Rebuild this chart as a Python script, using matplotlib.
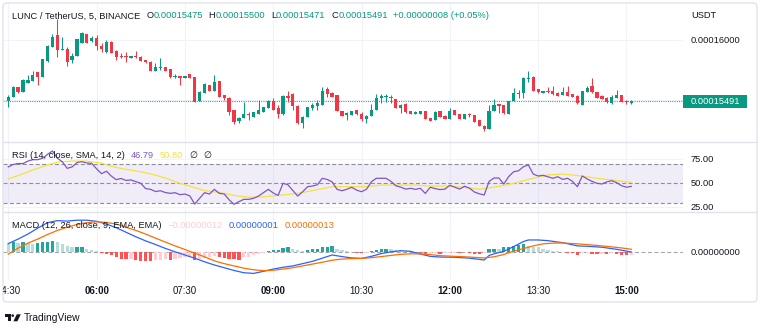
import numpy as np
import matplotlib
matplotlib.use("Agg")
import matplotlib.pyplot as plt
from matplotlib.patches import Rectangle, FancyBboxPatch, Circle, Polygon

plt.rcParams['font.family'] = ['Liberation Sans', 'DejaVu Sans']

W, H, DPI = 760, 329, 100

# ---- OHLC, 5-minute bars; prices in units of 1e-8 USDT ----
opens = [15494, 15527, 15606, 15569, 15644, 15661, 15731, 15694, 15825, 15944,
         16042, 15917, 15923, 15834, 15867, 15978, 16048, 15995, 16015, 15950,
         15898, 15986, 15911, 15871, 15871, 15854, 15869, 15861, 15834, 15819,
         15742, 15767, 15772, 15756, 15694, 15700, 15686, 15714, 15691, 15491,
         15560, 15625, 15575, 15658, 15541, 15519, 15416, 15325, 15352, 15383,
         15360, 15383, 15402, 15435, 15494, 15435, 15380, 15536, 15550, 15452,
         15305, 15360, 15435, 15452, 15458, 15591, 15560, 15541, 15408, 15375,
         15375, 15416, 15380, 15341, 15369, 15416, 15519, 15525, 15527, 15508,
         15435, 15464, 15408, 15386, 15386, 15408, 15347, 15333, 15408, 15369,
         15341, 15416, 15380, 15341, 15383, 15375, 15333, 15285, 15258, 15410,
         15464, 15458, 15383, 15491, 15550, 15555, 15672, 15689, 15591, 15560,
         15575, 15575, 15560, 15541, 15564, 15550, 15536, 15458, 15569, 15619,
         15564, 15536, 15519, 15472, 15519, 15541, 15491, 15475]
highs = [15541, 15616, 15612, 15675, 15708, 15744, 15737, 15842, 15959, 16050,
         16173, 16028, 15939, 15889, 16009, 16065, 16050, 16034, 16042, 15978,
         16000, 15988, 15913, 15889, 15903, 15871, 15909, 15867, 15837, 15825,
         15806, 15850, 15775, 15758, 15714, 15704, 15702, 15716, 15694, 15575,
         15639, 15627, 15708, 15661, 15544, 15522, 15419, 15360, 15483, 15402,
         15402, 15500, 15441, 15500, 15514, 15458, 15539, 15575, 15555, 15455,
         15364, 15441, 15472, 15500, 15611, 15611, 15564, 15544, 15410, 15402,
         15410, 15419, 15402, 15372, 15464, 15547, 15550, 15550, 15541, 15510,
         15464, 15472, 15410, 15408, 15410, 15410, 15350, 15405, 15410, 15372,
         15433, 15419, 15383, 15383, 15394, 15377, 15335, 15289, 15458, 15508,
         15466, 15461, 15494, 15602, 15583, 15691, 15742, 15700, 15594, 15577,
         15611, 15616, 15564, 15611, 15619, 15552, 15539, 15577, 15619, 15686,
         15566, 15539, 15522, 15541, 15583, 15544, 15500, 15500]
lows = [15444, 15525, 15562, 15566, 15639, 15658, 15625, 15692, 15821, 15942,
        15856, 15913, 15786, 15806, 15864, 15975, 15975, 15986, 15917, 15903,
        15896, 15888, 15834, 15848, 15819, 15853, 15850, 15825, 15812, 15739,
        15739, 15750, 15739, 15683, 15681, 15625, 15681, 15683, 15483, 15489,
        15558, 15572, 15572, 15525, 15500, 15375, 15297, 15305, 15350, 15333,
        15358, 15380, 15400, 15433, 15414, 15347, 15377, 15485, 15416, 15302,
        15266, 15358, 15416, 15416, 15455, 15527, 15525, 15405, 15366, 15333,
        15372, 15377, 15325, 15308, 15366, 15414, 15472, 15480, 15472, 15433,
        15389, 15389, 15383, 15383, 15383, 15339, 15322, 15330, 15358, 15339,
        15339, 15372, 15339, 15339, 15360, 15316, 15283, 15241, 15255, 15408,
        15391, 15386, 15380, 15489, 15514, 15514, 15652, 15572, 15560, 15558,
        15558, 15544, 15533, 15539, 15533, 15525, 15469, 15455, 15566, 15560,
        15516, 15505, 15477, 15469, 15516, 15483, 15466, 15471]
closes = [15527, 15606, 15569, 15666, 15666, 15708, 15694, 15839, 15950, 16023,
          15917, 15929, 15819, 15867, 16006, 16056, 15978, 16015, 15953, 15928,
          15986, 15889, 15861, 15859, 15859, 15867, 15859, 15827, 15814, 15742,
          15777, 15772, 15742, 15694, 15702, 15686, 15700, 15686, 15485, 15564,
          15631, 15575, 15652, 15527, 15514, 15402, 15319, 15352, 15380, 15372,
          15397, 15416, 15439, 15491, 15416, 15380, 15536, 15519, 15452, 15305,
          15360, 15439, 15458, 15472, 15575, 15550, 15527, 15408, 15369, 15389,
          15408, 15380, 15341, 15369, 15416, 15519, 15533, 15536, 15514, 15435,
          15458, 15402, 15386, 15402, 15408, 15341, 15325, 15402, 15360, 15341,
          15408, 15375, 15341, 15380, 15375, 15319, 15285, 15258, 15410, 15458,
          15452, 15389, 15491, 15560, 15560, 15681, 15681, 15575, 15564, 15575,
          15564, 15547, 15536, 15569, 15536, 15527, 15472, 15575, 15597, 15564,
          15519, 15508, 15480, 15527, 15541, 15485, 15483, 15491]

# ---- RSI (14) per bar and its 14-bar SMA ----
rsi = [67, 69.5, 70.5, 70.5, 73, 74.5, 74.5, 76, 80, 83.5,
       76, 72.4, 65.5, 67, 71.5, 72.4, 71, 70.7, 65, 60,
       62.5, 57.5, 53.8, 55, 53, 53.5, 51.8, 50, 44.5, 43.8,
       41.5, 42.3, 40.5, 39.6, 40.3, 38.2, 38.9, 37, 28.5, 34.5,
       40.3, 38.9, 43.8, 39.6, 39, 33, 28.3, 31, 33.4, 33.4,
       34.5, 36.8, 40.3, 43.8, 40, 37.5, 50, 48.5, 42.5, 36.8,
       41.3, 46.5, 47.2, 48.5, 55.2, 54, 51.5, 43.8, 42.3, 43.8,
       45.9, 43, 41.3, 43.8, 51.5, 55.2, 55.2, 55.2, 52, 47.5,
       46, 44, 44.8, 43.8, 44.8, 39.5, 45.9, 44.5, 43.5, 44,
       48, 46, 44, 47, 45, 41, 39.2, 37.9, 52, 55.5,
       55.5, 49.3, 57, 62, 63, 67.2, 69, 59.6, 57.6, 58.3,
       56.8, 55.2, 56.8, 54.1, 55.2, 52, 46.5, 57.6, 54.5, 52,
       50, 49.3, 51.5, 52.7, 50.7, 47.5, 46, 46.79]
rsi_ma_idx = [0, 2, 5, 8, 10, 13, 16, 19, 21, 24, 27, 30, 32, 35, 38, 40, 43, 46,
              49, 52, 56, 59, 62, 66, 69, 73, 76, 80, 83, 86, 89, 93, 96, 100,
              103, 106, 110, 113, 117, 120, 123, 127]
rsi_ma = [54.5, 58, 63.8, 69, 72, 73, 73, 71, 67.5, 64.5, 62, 58.5, 55.5, 50,
          45.5, 42.5, 40.5, 37.5, 35.5, 36, 38, 39.6, 42.5, 46.5, 46.5, 46.5,
          48.2, 48.2, 48.2, 47, 47.2, 45.8, 43.8, 46.8, 50, 54, 58.7, 59.6,
          57.5, 55.2, 53.5, 50.8]

# ---- MACD (12, 26, 9); values in units of 1e-8 ----
macd_idx = [0, 2, 4, 6, 8, 10, 12, 14, 16, 18, 20, 22, 24, 26, 28, 30, 32, 34,
            36, 38, 40, 42, 44, 46, 48, 50, 52, 54, 56, 58, 60, 62, 64, 66, 68,
            70, 72, 74, 76, 78, 80, 82, 84, 86, 88, 91, 94, 97, 98, 99, 101,
            103, 105, 106, 108, 110, 113, 116, 119, 121, 124, 127]
macd = [38, 58, 80, 106, 130, 139, 137, 141, 141, 136, 124, 108, 88, 68, 50,
        34, 17, 2, -12, -26, -42, -56, -68, -80, -90, -93, -84, -74, -66, -60,
        -50, -40, -26, -12, -19, -25, -27, -18, -6, 2, 7, 4, -8, -18, -21,
        -22, -26, -34, -14, -7, 4, 25, 47, 54, 54, 51, 42, 28, 25, 22, 13, 1]
signal_idx = [0, 2, 4, 6, 8, 10, 12, 14, 16, 18, 20, 22, 24, 26, 28, 30, 32,
              34, 36, 38, 40, 42, 44, 46, 48, 50, 52, 54, 56, 58, 60, 62, 64,
              66, 68, 70, 72, 74, 76, 78, 80, 82, 84, 86, 88, 91, 94, 97, 99,
              101, 103, 105, 107, 109, 111, 113, 116, 119, 122, 125, 127]
signal = [-8, 18, 40, 58, 78, 96, 110, 122, 130, 134, 131, 124, 110, 96, 80,
          62, 45, 28, 12, -4, -20, -38, -50, -60, -70, -77, -81, -79, -74, -68,
          -60, -52, -44, -35, -30, -28, -27, -24, -19, -14, -9, -7, -7, -10,
          -15, -18, -21, -25, -20, -10, 5, 16, 28, 37, 40, 41, 37, 32, 26, 19, 13]
hist = [40, 44, 40, 44, 40, 37, 40, 44, 47, 51,
        44, 37, 28, 21, 22, 23, 13, 10, 4, -4,
        -9, -13, -22, -29, -31, -29, -33, -37, -38, -39,
        -35, -33, -31, -34, -29, -26, -23, -22, -33, -31,
        -26, -20, -18, -20, -24, -28, -31, -32, -22, -19,
        -12, -7, -4, 7, 8, 10, 18, 21, 13, 10,
        7, 10, 13, 14, 22, 25, 28, 13, 10, 6,
        3, -3, -4, -2, 6, 10, 15, 16, 13, 10,
        7, 6, 4, 2, -4, -7, -5, -4, -7, -4,
        -3, -2, -3, 2, -4, -7, -9, -4, 13, 15,
        13, 21, 25, 29, 32, 35, 28, 25, 21, 15,
        10, 6, 4, 2, -3, -4, -12, -4, -3, -7,
        -9, -8, -9, -4, -9, -12, -13, -12]

symbol = "LUNC / TetherUS, 5, BINANCE"
quote = "USDT"
first_bar = "04:30"
bar_minutes = 5
time_labels = ["04:30", "06:00", "07:30", "09:00", "10:30", "12:00", "13:30", "15:00"]
major_times = ["06:00", "09:00", "12:00", "15:00"]
price_grid = [16000, 15500]
price_labels = [16000]
rsi_grid = [75, 25]
rsi_labels = [75, 50, 25]
rsi_levels = [70, 50, 30]

UNIT = 1e-8
UP, DOWN = '#089981', '#F23645'
TXT = '#131722'
GRID = '#F0F3FA'
SEP = '#E0E3EB'
FS = 6.7

fig = plt.figure(figsize=(W / DPI, H / DPI), dpi=DPI, facecolor='white')

# pane geometry in pixels
PL, PR = 3, 683
X0, DX = 8.3, 4.906          # pixel x of the first bar, pixel spacing of bars
xlim = ((PL - X0) / DX, (PR - X0) / DX)


def pane(top, bottom):
    ax = fig.add_axes([PL / W, 1 - bottom / H, (PR - PL) / W, (bottom - top) / H])
    ax.set_xlim(*xlim)
    ax.axis('off')
    return ax


def bar_index(label):
    h, m = map(int, label.split(':'))
    h0, m0 = map(int, first_bar.split(':'))
    return ((h * 60 + m) - (h0 * 60 + m0)) / bar_minutes


tick_pos = [bar_index(t) for t in time_labels]

o, hi, lo, c = (np.array(a, float) for a in (opens, highs, lows, closes))
x = np.arange(len(c))

# ---- main price pane ----
ax = pane(3, 142)
ax.set_ylim(15150, 16309)
for t in tick_pos:
    ax.axvline(t, color=GRID, lw=0.8, zorder=0)
for p in price_grid:
    ax.axhline(p, color=GRID, lw=0.8, zorder=0)
up = c >= o
col = np.where(up, UP, DOWN)
ax.vlines(x, lo, hi, colors=col, lw=0.75, zorder=2)
body_lo = np.minimum(o, c)
body_h = np.maximum(np.abs(c - o), 9)
ax.bar(x, body_h, bottom=body_lo, width=0.66, color=col, lw=0, zorder=3)
ax.axhline(c[-1], color=UP, lw=0.8, ls=(0, (0.8, 1.2)), zorder=1)

# ---- RSI pane ----
ax_r = pane(142, 212)
ax_r.set_ylim(20.3, 92.8)
for t in tick_pos:
    ax_r.axvline(t, color=GRID, lw=0.8, zorder=0)
for g in rsi_grid:
    ax_r.axhline(g, color=GRID, lw=0.8, zorder=0)
ax_r.axhspan(rsi_levels[-1], rsi_levels[0], color='#7E57C2', alpha=0.1, lw=0, zorder=0.5)
for lv in rsi_levels:
    ax_r.axhline(lv, color='#8C8F99', lw=0.8, ls=(0, (3.6, 2.2)), zorder=1)
ax_r.plot(rsi_ma_idx, rsi_ma, color='#F5E23C', lw=0.9, zorder=2)
ax_r.plot(x, rsi, color='#7E57C2', lw=0.9, zorder=3)

# ---- MACD pane ----
ax_m = pane(212, 280)
ax_m.set_ylim(-122, 177)
for t in tick_pos:
    ax_m.axvline(t, color=GRID, lw=0.8, zorder=0)
ax_m.axhline(0, color='#A3A6AF', lw=0.8, ls=(0, (3.6, 2.2)), zorder=1)
hv = np.array(hist, float)
prev = np.r_[hv[0], hv[:-1]]
hcol = np.where(hv >= 0,
                np.where(hv > prev, '#26A69A', '#B2DFDB'),
                np.where(hv > prev, '#FFCDD2', '#FF5252'))
ax_m.bar(x, hv, width=0.66, color=hcol, lw=0, zorder=2)
ax_m.plot(macd_idx, macd, color='#2962FF', lw=0.9, zorder=3)
ax_m.plot(signal_idx, signal, color='#FF6D00', lw=0.9, zorder=3)

# ---- overlay in pixel coordinates ----
ov = fig.add_axes([0, 0, 1, 1], zorder=10)
ov.set_xlim(0, W)
ov.set_ylim(H, 0)
ov.axis('off')
ov.patch.set_alpha(0)

ov.add_patch(FancyBboxPatch((3, 3), 754, 299, boxstyle='round,pad=0,rounding_size=4',
                            fill=False, ec=SEP, lw=1))
ov.hlines([142, 212], 3, 757, color=SEP, lw=1)


def ypix(a, v):
    return H - a.transData.transform((0, v))[1]


def fmt(v):
    s = f"{v * UNIT:.8f}"
    return s.replace('-', '\u2212')


AX_X = 691
ov.text(AX_X, 16, quote, fontsize=FS, color=TXT, va='center', ha='left')
for p in price_labels:
    ov.text(AX_X, ypix(ax, p), fmt(p), fontsize=FS, color=TXT, va='center', ha='left')
yc = ypix(ax, c[-1])
ov.add_patch(Rectangle((683, yc - 6.6), 64, 13.3, color=UP, lw=0))
ov.text(AX_X - 0.5, yc, fmt(c[-1]), fontsize=FS, color='white', va='center', ha='left')
for r in rsi_labels:
    ov.text(AX_X, ypix(ax_r, r), f"{r:.2f}", fontsize=FS, color=TXT, va='center', ha='left')
ov.text(AX_X, ypix(ax_m, 0), fmt(0), fontsize=FS, color=TXT, va='center', ha='left')

for t, lab in zip(tick_pos, time_labels):
    xp = X0 + DX * t
    txt = ov.text(xp, 291.5, lab, fontsize=7.0, color=TXT, va='center', ha='center',
                  fontweight='bold' if lab in major_times else 'normal')
    txt.set_clip_box(matplotlib.transforms.Bbox.from_extents(3, 0, 760, H))
    txt.set_clip_on(True)

renderer = fig.canvas.get_renderer()


def legend_row(y, parts, x0=12):
    xx = x0
    for s, color, gap in parts:
        t = ov.text(xx, y, s, fontsize=FS, color=color, va='center', ha='left')
        xx += t.get_window_extent(renderer=renderer).width + gap


chg = c[-1] - c[-2]
pct = chg / c[-2] * 100
sign = '+' if chg >= 0 else '\u2212'
vcol = UP if chg >= 0 else DOWN
legend_row(16, [(symbol, TXT, 6),
                ('O', TXT, 0), (fmt(o[-1]), vcol, 6),
                ('H', TXT, 0), (fmt(hi[-1]), vcol, 6),
                ('L', TXT, 0), (fmt(lo[-1]), vcol, 6),
                ('C', TXT, 0), (fmt(c[-1]), vcol, 5),
                (f"{sign}{abs(chg) * UNIT:.8f} ({sign}{abs(pct):.2f}%)", vcol, 0)])
legend_row(155, [("RSI (14, close, SMA, 14, 2)", TXT, 6),
                 (f"{rsi[-1]:.2f}", '#7E57C2', 6),
                 (f"{rsi_ma[-1]:.2f}", '#F5E23C', 6),
                 ("\u2205", TXT, 6), ("\u2205", TXT, 0)])
hcol_last = '#FFCDD2' if hv[-1] < 0 and hv[-1] > hv[-2] else ('#FF5252' if hv[-1] < 0 else '#26A69A')
legend_row(225, [("MACD (12, 26, close, 9, EMA, EMA)", TXT, 6),
                 (fmt(hist[-1]), hcol_last, 6),
                 (fmt(macd[-1]), '#2962FF', 6),
                 (fmt(signal[-1]), '#FF6D00', 0)])

# TradingView mark
ov.add_patch(Rectangle((5.2, 314.3), 5.6, 2.4, color=TXT, lw=0))
ov.add_patch(Rectangle((7.9, 314.3), 2.9, 7.0, color=TXT, lw=0))
ov.add_patch(Circle((12.7, 315.6), 1.3, color=TXT, lw=0))
ov.add_patch(Polygon([(13.4, 321.3), (16.8, 314.3), (20.8, 314.3), (17.4, 321.3)],
                     closed=True, color=TXT, lw=0))
ov.text(24, 318, "TradingView", fontsize=7.4, color=TXT, va='center', ha='left')

fig.savefig('out.png', dpi=DPI, facecolor='white')
